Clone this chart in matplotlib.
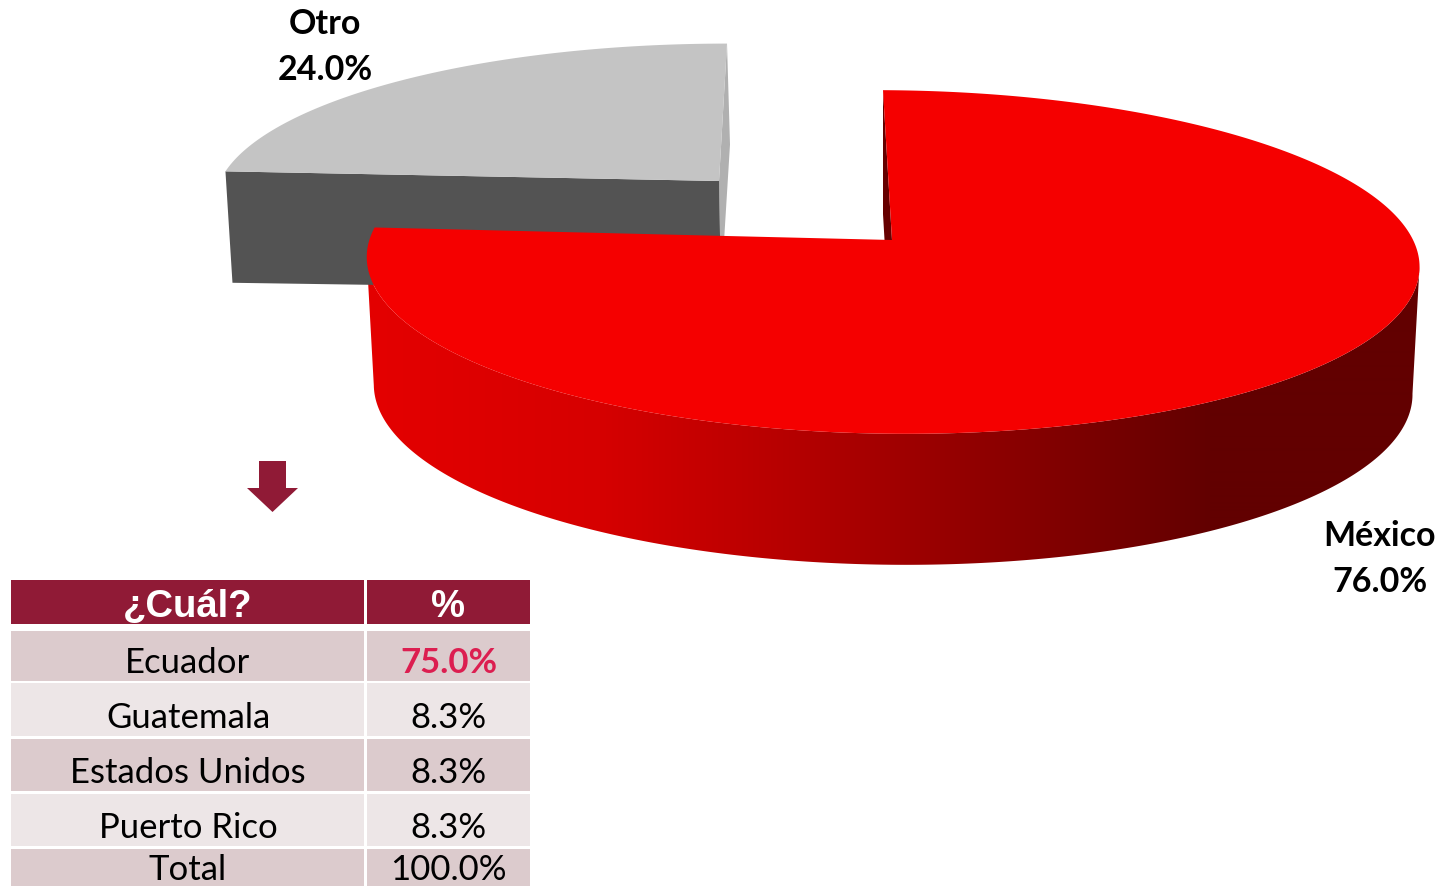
import numpy as np
import matplotlib
matplotlib.use('Agg')
import matplotlib.pyplot as plt
from matplotlib.patches import Polygon, Rectangle

# pie data
slice_labels = ['México', 'Otro']
slice_values = [76.0, 24.0]

# table data
table_header = ['¿Cuál?', '%']
table_names = ['Ecuador', 'Guatemala', 'Estados Unidos', 'Puerto Rico', 'Total']
table_shares = ['75.0%', '8.3%', '8.3%', '8.3%', '100.0%']

# colours
wine = '#901A36'
row_dark = '#DCCBCD'
row_light = '#EDE6E7'

fig = plt.figure(figsize=(14.42, 8.86), dpi=100)
ax = fig.add_axes([0, 0, 1, 1])
ax.axis('off')


# one rim of the tilted pie, theta is clockwise from the back of the pie
def rim(theta, cx, cy, a, b, shift, tilt=0.0, k=0.128):
    u = np.sin(theta)
    v = np.cos(theta)
    x = cx + a * u / (1 + k * v) + shift * v
    y = cy - b * v / (1 + k * v) + tilt * u
    return np.column_stack([x, y])


split = 2 * np.pi * slice_values[0] / sum(slice_values)

# Otro, sits further back so it goes first
grey_top = dict(cx=719, cy=181, a=499, b=155, shift=8)
grey_bottom = dict(cx=721, cy=290, a=494, b=164, shift=9, tilt=-3)
t = np.linspace(split, 2 * np.pi, 100)
grey_arc = rim(t, **grey_top)
grey_low = rim(t, **grey_bottom)
apex_top = [grey_top['cx'], grey_top['cy']]
apex_low = [grey_bottom['cx'], grey_bottom['cy']]
ax.add_patch(Polygon([grey_arc[-1], grey_low[-1], apex_low, apex_top], fc='#B0B0B0', ec='none'))
ax.add_patch(Polygon([grey_arc[0], apex_top, apex_low, grey_low[0]], fc='#535353', ec='none'))
ax.add_patch(Polygon(np.vstack([grey_arc, [apex_top]]), fc='#C4C4C4', ec='none'))

# México
red_top = dict(cx=892, cy=240, a=522, b=169, shift=-9, tilt=2)
red_bottom = dict(cx=892, cy=367, a=515, b=172.5, shift=-9, tilt=2)
t = np.linspace(0, split, 400)
red_arc = rim(t, **red_top)
red_low = rim(t, **red_bottom)

# inner wall behind the top face
ax.add_patch(Polygon([red_arc[0], red_low[0], [892, 367], [892, 240]], fc='#660000', ec='none'))

# outer wall with the left to right shading
right = np.argmax(red_arc[:, 0])
left = np.argmin(red_arc[:, 0])
wall = np.vstack([red_arc[right:left + 1], red_low[right:left + 1][::-1]])
wall_patch = Polygon(wall, fc='none', ec='none')
ax.add_patch(wall_patch)
xs = np.arange(360, 1425)
stops_x = [370, 600, 800, 1000, 1210]
stops_r = [228, 214, 180, 140, 98]
shade = np.zeros((1, len(xs), 3))
shade[0, :, 0] = np.interp(xs, stops_x, stops_r) / 255
im = ax.imshow(shade, extent=[360, 1425, 600, 150], aspect='auto', interpolation='bilinear')
im.set_clip_path(wall_patch)

ax.add_patch(Polygon(np.vstack([red_arc, [[892, 240]]]), fc='#F50000', ec='none'))

# pie labels
ax.text(325, 34, slice_labels[1], family='Lato', weight='bold', fontsize=24.5, ha='center', va='baseline', color='black')
ax.text(325, 80, f'{slice_values[1]:.1f}%', family='Lato', weight='bold', fontsize=24.5, ha='center', va='baseline', color='black')
ax.text(1380, 546, slice_labels[0], family='Lato', weight='bold', fontsize=24.5, ha='center', va='baseline', color='black')
ax.text(1380, 592, f'{slice_values[0]:.1f}%', family='Lato', weight='bold', fontsize=24.5, ha='center', va='baseline', color='black')

# arrow down to the table
ax.add_patch(Polygon([[259, 461], [286, 461], [286, 488], [298, 488], [272.5, 512], [247, 488], [259, 488]], fc=wine, ec='none'))

# table
col_x = [(11, 364), (367, 530)]
ax.add_patch(Rectangle((col_x[0][0], 580), col_x[0][1] - col_x[0][0], 44, fc=wine, ec='none'))
ax.add_patch(Rectangle((col_x[1][0], 580), col_x[1][1] - col_x[1][0], 44, fc=wine, ec='none'))
ax.text(188, 617, table_header[0], family='Liberation Sans', weight='bold', fontsize=27.5, color='white', ha='center', va='baseline')
ax.text(448.5, 617, table_header[1], family='Liberation Sans', weight='bold', fontsize=27.5, color='white', ha='center', va='baseline')

row_top = [631, 683, 739, 794, 849]
row_bottom = [681, 736, 791, 846, 886]
baselines = [673, 728, 783, 838, 880]
for i in range(len(table_names)):
    fill = row_dark if i % 2 == 0 else row_light
    for c in col_x:
        ax.add_patch(Rectangle((c[0], row_top[i]), c[1] - c[0], row_bottom[i] - row_top[i], fc=fill, ec='none'))
    ax.text(188, baselines[i], table_names[i], family='Lato', fontsize=25, color='black', ha='center', va='baseline')
    if i == 0:
        ax.text(448.5, baselines[i], table_shares[i], family='Lato', weight='bold', fontsize=25, color='#DC1E50', ha='center', va='baseline')
    else:
        ax.text(448.5, baselines[i], table_shares[i], family='Lato', fontsize=25, color='black', ha='center', va='baseline')

ax.set_xlim(0, 1442)
ax.set_ylim(886, 0)
fig.savefig('out.png', dpi=100)
